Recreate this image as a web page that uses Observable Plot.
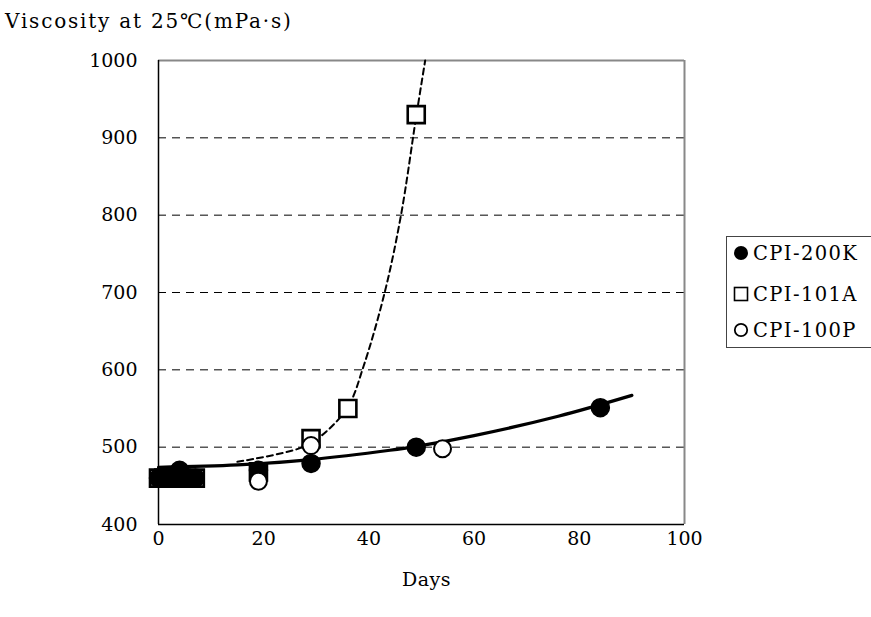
<!DOCTYPE html>
<html>
<head>
<meta charset="utf-8">
<script src="https://cdn.jsdelivr.net/npm/d3@7"></script>
<script src="https://cdn.jsdelivr.net/npm/@observablehq/plot@0.6"></script>
<style>
  body { margin: 0; background: #fff; }
  #wrap { position: relative; width: 871px; height: 617px; font-family: "DejaVu Serif", serif; color: #000; }
  #title { position: absolute; left: 5px; top: 9px; font-size: 20px; white-space: nowrap; letter-spacing: 1.8px; }
  #xlabel { position: absolute; left: 402px; top: 568px; font-size: 19px; letter-spacing: 0.5px; }
  #legend { position: absolute; left: 726px; top: 236px; width: 160px; height: 110px; border: 1px solid #444; background: #fff; }
  .item { position: absolute; left: 6px; height: 24px; display: flex; align-items: center; font-size: 19.5px; letter-spacing: 1.4px; white-space: nowrap; }
  .item svg { margin-right: 4px; }
</style>
</head>
<body>
<div id="wrap">
  <div id="chart"></div>
  <div id="title">Viscosity at 25℃(mPa·s)</div>
  <div id="xlabel">Days</div>
  <div id="legend"></div>
</div>
<script>
// Series names
const seriesNames = ["CPI-200K", "CPI-101A", "CPI-100P"];

// CPI-200K (filled circles)
const days200K = [0, 1, 2, 3, 4, 5, 6, 7, 19, 29, 49, 84];
const visc200K = [460, 460, 460, 460, 470, 460, 460, 460, 470, 479, 500, 551];

// CPI-101A (open squares)
const days101A = [0, 1, 2, 4, 7, 19, 29, 36, 49];
const visc101A = [460, 460, 460, 460, 460, 468, 511, 550, 930];

// CPI-100P (open circles)
const days100P = [19, 29, 54];
const visc100P = [456, 502, 498];

// Trend line of CPI-200K (solid)
const trendDays200K = [0, 15, 29, 44, 49, 60, 76, 90];
const trendVisc200K = [474, 477, 484, 496, 501, 515, 540, 567];

// Trend line of CPI-101A (dashed)
const trendDays101A = [15, 27, 31, 36, 39, 43, 46.1, 49, 50.7];
const trendVisc101A = [481, 499, 515, 552, 605, 700, 800, 928, 1000];

// Axis ticks
const xTicks = [0, 20, 40, 60, 80, 100];
const yTicks = [400, 500, 600, 700, 800, 900, 1000];
const gridValues = [500, 600, 700, 800, 900];

const zip = (xs, ys) => xs.map((x, i) => ({x, y: ys[i]}));
const d200K = zip(days200K, visc200K);
const d101A = zip(days101A, visc101A);
const d100P = zip(days100P, visc100P);
const t200K = zip(trendDays200K, trendVisc200K);
const t101A = zip(trendDays101A, trendVisc101A);

const chart = Plot.plot({
  width: 871,
  height: 617,
  marginLeft: 158,
  marginRight: 187,
  marginTop: 60,
  marginBottom: 93,
  style: {fontFamily: "DejaVu Serif, serif", fontSize: "19px", color: "#000", background: "#fff", overflow: "visible"},
  x: {domain: [0, 100], ticks: xTicks, tickSize: 0, tickPadding: 7, label: null, tickFormat: d => String(d)},
  y: {domain: [400, 1000], ticks: yTicks, tickSize: 0, tickPadding: 21, label: null, tickFormat: d => String(d)},
  marks: [
    Plot.ruleY(gridValues, {stroke: "#000", strokeWidth: 1, strokeDasharray: "8,6"}),
    Plot.ruleY([1000], {stroke: "#888", strokeWidth: 2}),
    Plot.ruleX([100], {stroke: "#888", strokeWidth: 2}),
    Plot.ruleX([0], {stroke: "#000", strokeWidth: 1.5}),
    Plot.ruleY([400], {stroke: "#000", strokeWidth: 1.5}),
    Plot.line(t101A, {x: "x", y: "y", stroke: "#000", strokeWidth: 2, strokeDasharray: "6,4", curve: "catmull-rom"}),
    Plot.line(t200K, {x: "x", y: "y", stroke: "#000", strokeWidth: 3.2, curve: "catmull-rom"}),
    Plot.dot(d101A, {x: "x", y: "y", symbol: "square", r: 9.6, fill: "#fff", stroke: "#000", strokeWidth: 2.6}),
    Plot.dot(d200K, {x: "x", y: "y", symbol: "circle", r: 9, fill: "#000", stroke: "#000"}),
    Plot.dot(d100P, {x: "x", y: "y", symbol: "circle", r: 8.5, fill: "#fff", stroke: "#000", strokeWidth: 2})
  ]
});
document.getElementById("chart").appendChild(chart);

// Legend
const legend = document.getElementById("legend");
const markerSvg = [
  '<svg width="16" height="16"><circle cx="8" cy="8" r="7" fill="#000"/></svg>',
  '<svg width="16" height="16"><rect x="1.5" y="1.5" width="13" height="13" fill="#fff" stroke="#000" stroke-width="1.6"/></svg>',
  '<svg width="16" height="16"><circle cx="8" cy="8" r="6.2" fill="#fff" stroke="#000" stroke-width="1.8"/></svg>'
];
const itemTops = [4, 45, 81];
seriesNames.forEach((name, i) => {
  const div = document.createElement("div");
  div.className = "item";
  div.style.top = (itemTops[i]) + "px";
  div.innerHTML = markerSvg[i] + "<span>" + name + "</span>";
  legend.appendChild(div);
});
</script>
</body>
</html>
